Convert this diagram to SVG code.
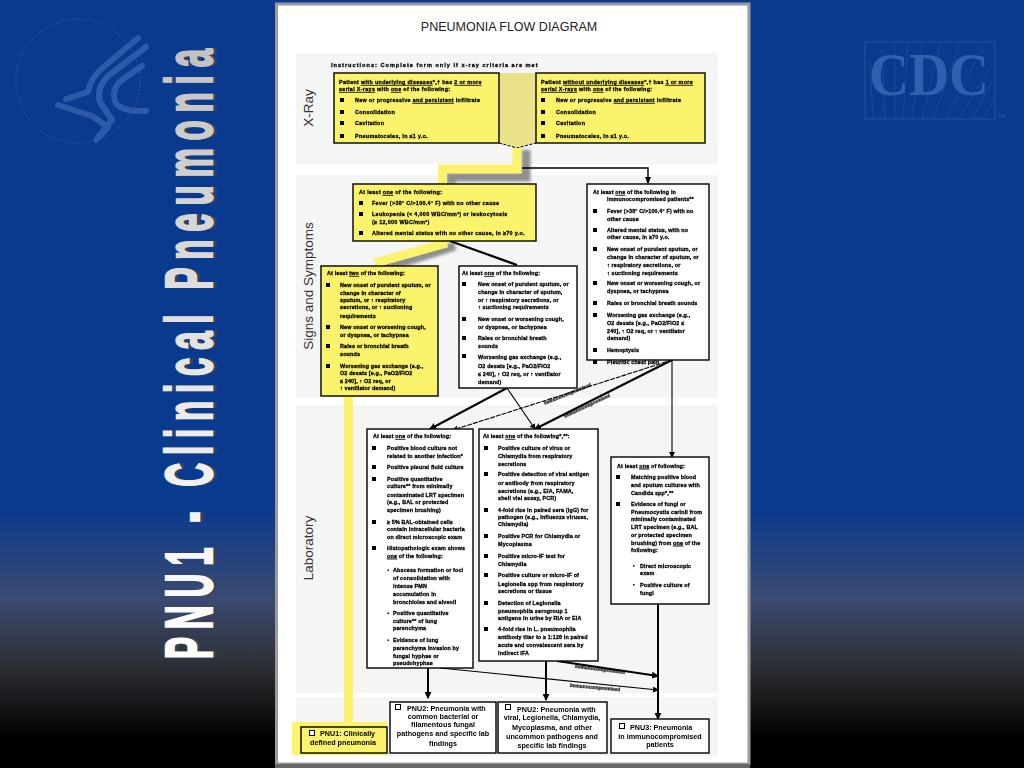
<svg xmlns="http://www.w3.org/2000/svg" width="1024" height="768" viewBox="0 0 1024 768">
<style>
text{font-family:"Liberation Sans",Arial,sans-serif}
.t{font-size:5.4px;font-weight:700;fill:#000;stroke:#000;stroke-width:.28;filter:url(#soft);letter-spacing:.15px}
#xray-left .t,#xray-right .t,#signs-general .t{letter-spacing:.32px}
.h{font-size:5.6px;letter-spacing:1px}
.u{text-decoration:underline}
.m{font-size:7.2px;font-weight:700;fill:#000;text-anchor:middle;filter:url(#soft)}
.ml{text-anchor:start}
.s{font-size:13.5px;fill:#333;text-anchor:middle}
.l{font-size:4.8px;font-weight:700;fill:#000;stroke:#000;stroke-width:.2;filter:url(#soft)}
.y{fill:#fbf36c;stroke:#000;stroke-width:1.4}
.w{fill:#fff;stroke:#000;stroke-width:1.4}
.b{fill:#000;stroke:none}
.ck{fill:#fff;stroke:#000;stroke-width:1}
.band{fill:#f5f5f5}
.c{fill:none;stroke:#000}
.thin{stroke-width:1.1;marker-end:url(#a)}
.thick{stroke-width:2;marker-end:url(#a2)}
.logo{fill:none;stroke:#2c5aa8}
.hl{fill:none;stroke:#fbf36c;stroke-width:9}
.sh{fill:none;stroke:#8f8f8f;stroke-width:9;filter:url(#blur)}
</style>
<defs>
<linearGradient id="bg" x1="0" y1="0" x2="0" y2="768" gradientUnits="userSpaceOnUse">
<stop offset="0" stop-color="#093a8e"/><stop offset=".66" stop-color="#093a8e"/><stop offset=".78" stop-color="#3a4a70"/><stop offset=".86" stop-color="#2e3138"/><stop offset=".93" stop-color="#111"/><stop offset=".96" stop-color="#000"/><stop offset="1" stop-color="#000"/>
</linearGradient>
<linearGradient id="tg" x1="0" y1="0" x2="1220" y2="0" gradientUnits="userSpaceOnUse">
<stop offset="0" stop-color="#fff"/><stop offset=".45" stop-color="#e8e8e8"/><stop offset="1" stop-color="#c2c2c2"/>
</linearGradient>
<filter id="blur" x="-30%" y="-30%" width="160%" height="160%"><feGaussianBlur stdDeviation="1.6"/></filter>
<filter id="soft" x="-5%" y="-30%" width="110%" height="160%"><feGaussianBlur stdDeviation=".22"/></filter>
<marker id="a" markerWidth="6" markerHeight="6" refX="5" refY="3" orient="auto" markerUnits="userSpaceOnUse"><path d="M0 0L6 3L0 6z" fill="#000"/></marker>
<marker id="a2" markerWidth="7" markerHeight="7" refX="6" refY="3.5" orient="auto" markerUnits="userSpaceOnUse"><path d="M0 0L7 3.5L0 7z" fill="#000"/></marker>
</defs>

<rect width="1024" height="768" fill="url(#bg)"/>

<g id="hhs-logo">
<circle class="logo" cx="78" cy="81" r="62" stroke-width="2" stroke-dasharray="2 2" opacity=".5"/>
<path class="logo" stroke-width="6" stroke-linecap="round" stroke-linejoin="round" d="M138 38L100 70Q90 80 88 92L66 99"/>
<path class="logo" stroke-width="6" stroke-linecap="round" stroke-linejoin="round" d="M146 47L108 76Q96 88 100 102L112 120L96 140"/>
<path class="logo" stroke-width="6" stroke-linecap="round" stroke-linejoin="round" d="M142 66L122 80Q110 90 116 104Q125 112 146 111"/>
<path class="logo" stroke-width="6" stroke-linecap="round" stroke-linejoin="round" d="M58 105L92 116L108 127L100 136"/>
</g>
<g id="cdc-logo">
<rect class="logo" x="865" y="42" width="130" height="77" stroke-width="1.2" opacity=".7"/>
<path class="logo" stroke-width="1" opacity=".5" d="M870 60L873 119M882 50L885 119M895 44L895 119M908 44L903 119M922 44L912 119M940 44L922 119M960 44L933 119M985 44L945 119M994 62L958 119M994 78L972 119M994 100L982 119"/>
<text x="869" y="95" font-size="62" font-weight="700" fill="#2f5fad" textLength="120" lengthAdjust="spacingAndGlyphs" style="font-family:'Liberation Serif',serif">CDC</text>
<text x="998" y="118" font-size="5" fill="#2f5fad">TM</text>
</g>

<g id="side-title">
<text transform="translate(214.500,659) rotate(-90) scale(.5,1)" font-size="66" font-weight="700" fill="#3a4252" stroke="#3a4252" stroke-width="2.400" letter-spacing="15.700">PNU1 - Clinical Pneumonia</text>
<text transform="translate(211.500,659) rotate(-90) scale(.5,1)" font-size="66" font-weight="700" fill="url(#tg)" stroke="url(#tg)" stroke-width="2.400" letter-spacing="15.700">PNU1 - Clinical Pneumonia</text>
</g>

<rect id="page" x="276.500" y="4" width="472.500" height="760" fill="#fff" stroke="#9a9a9f" stroke-width="3"/>
<rect x="275" y="764" width="475" height="4" fill="#666"/>

<text x="509" y="31" text-anchor="middle" font-size="12.500" fill="#222">PNEUMONIA FLOW DIAGRAM</text>

<g id="bands">
<rect class="band" x="296" y="53" width="422" height="111"/>
<rect class="band" x="296" y="175" width="422" height="223"/>
<rect class="band" x="296" y="405" width="422" height="288"/>
<rect class="band" x="296" y="697" width="422" height="59"/>
<text class="s" transform="translate(313,108) rotate(-90)">X-Ray</text>
<text class="s" transform="translate(313,286) rotate(-90)">Signs and Symptoms</text>
<text class="s" transform="translate(313,548) rotate(-90)">Laboratory</text>
</g>

<text class="t h" x="331" y="66.500">Instructions: Complete form only if x-ray criteria are met</text>

<g id="highlight-shadows">
<path class="sh" d="M526 150V177H451V184"/>
<path class="sh" d="M455 246L385 268"/>
<path class="sh" d="M357 398V726"/>
</g>

<g id="connectors">
<path d="M499 73H536V143L517 148L499 143z" fill="#e9e288"/>
<path class="c" stroke-width="1" stroke-dasharray="3 1.500" d="M499 143L517 148L536 143"/>
<path class="hl" d="M517 148V169H442.500V185"/>
<path class="c" stroke-width="1.400" d="M522 168H648V183"/>
<path d="M645 177L651 177L648 184z" fill="#000"/>
<path class="hl" d="M447 243L375 263"/>
<path class="hl" d="M348.500 396V725"/>
<rect x="292" y="722" width="95" height="33" fill="#fbf36c"/>
<path class="c" stroke-width="2.200" d="M450 241L517 265"/>
<path class="c thick" d="M507 388L430 429"/>
<path class="c thin" d="M507 388L535 429"/>
<path class="c thin" stroke-dasharray="5 1" d="M672 360L453 430"/>
<path class="c thick" d="M672 360L535 429"/>
<path class="c thin" d="M672 360V457"/>
<path class="c thick" d="M428 668V698"/>
<path class="c thick" d="M546 661V700"/>
<path class="c thick" d="M658 604V719"/>
<path class="c thick" d="M557 661L658 676"/>
<path class="c thin" d="M440 668L658 690"/>
<text class="l" transform="translate(545,405) rotate(-22)">Immunocompromised</text>
<text class="l" transform="translate(565,418) rotate(-25)">Immunocompromised</text>
<text class="l" transform="translate(575,668) rotate(7)">Immunocompromised</text>
<text class="l" transform="translate(570,687) rotate(5)">Immunocompromised</text>
</g>

<g id="xray-left">
<rect class="y" x="334" y="73" width="165" height="70"/>
<text class="t" x="339" y="84"><tspan>Patient </tspan><tspan class="u">with underlying diseases</tspan><tspan>*,† has </tspan><tspan class="u">2 or more</tspan></text>
<text class="t" x="339" y="91"><tspan class="u">serial X-rays</tspan><tspan> with </tspan><tspan class="u">one</tspan><tspan> of the following:</tspan></text>
<path class="b" d="M340 98h4v4h-4zM340 110h4v4h-4zM340 121h4v4h-4zM340 134h4v4h-4z"/>
<text class="t" x="355" y="102"><tspan>New or progressive </tspan><tspan class="u">and persistent</tspan><tspan> infiltrate</tspan></text>
<text class="t" x="355" y="114">Consolidation</text>
<text class="t" x="355" y="125">Cavitation</text>
<text class="t" x="355" y="138">Pneumatoceles, in ≤1 y.o.</text>
</g>

<g id="xray-right">
<rect class="y" x="536" y="73" width="169" height="70"/>
<text class="t" x="541" y="84"><tspan>Patient </tspan><tspan class="u">without underlying diseases</tspan><tspan>*,† has </tspan><tspan class="u">1 or more</tspan></text>
<text class="t" x="541" y="91"><tspan class="u">serial X-rays</tspan><tspan> with </tspan><tspan class="u">one</tspan><tspan> of the following:</tspan></text>
<path class="b" d="M541 98h4v4h-4zM541 110h4v4h-4zM541 121h4v4h-4zM541 134h4v4h-4z"/>
<text class="t" x="556" y="102"><tspan>New or progressive </tspan><tspan class="u">and persistent</tspan><tspan> infiltrate</tspan></text>
<text class="t" x="556" y="114">Consolidation</text>
<text class="t" x="556" y="125">Cavitation</text>
<text class="t" x="556" y="138">Pneumatoceles, in ≤1 y.o.</text>
</g>

<g id="signs-general">
<rect class="y" x="353" y="184" width="183" height="57"/>
<text class="t" x="359" y="194">At least <tspan class="u">one</tspan> of the following:</text>
<path class="b" d="M359 201h4v4h-4zM359 212h4v4h-4zM359 231h4v4h-4z"/>
<text class="t" x="372" y="205">Fever (&gt;38° C/&gt;100.4° F) with no other cause</text>
<text class="t" x="372" y="216">Leukopenia (&lt; 4,000 WBC/mm³) or leukocytosis</text>
<text class="t" x="372" y="224">(≥ 12,000 WBC/mm³)</text>
<text class="t" x="372" y="235">Altered mental status with no other cause, in ≥70 y.o.</text>
</g>

<g id="signs-immunocompromised">
<rect class="w" x="587" y="184" width="122" height="176"/>
<text class="t" x="593" y="194">At least <tspan class="u">one</tspan> of the following in</text>
<text class="t" x="607" y="201">immunocompromised patients**</text>
<path class="b" d="M593 209h4v4h-4zM593 228h4v4h-4zM593 247h4v4h-4zM593 281h4v4h-4zM593 301h4v4h-4zM593 313h4v4h-4zM593 348h4v4h-4zM593 360h4v4h-4z"/>
<text class="t" x="607" y="213">Fever (&gt;38° C/&gt;100.4° F) with no</text>
<text class="t" x="607" y="221">other cause</text>
<text class="t" x="607" y="232">Altered mental status, with no</text>
<text class="t" x="607" y="239.300">other cause, in ≥70 y.o.</text>
<text class="t" x="607" y="251.300">New onset of purulent sputum, or</text>
<text class="t" x="607" y="259.300">change in character of sputum, or</text>
<text class="t" x="607" y="267.300">↑ respiratory secretions, or</text>
<text class="t" x="607" y="275.300">↑ suctioning requirements</text>
<text class="t" x="607" y="285.300">New onset or worsening cough, or</text>
<text class="t" x="607" y="293">dyspnea, or tachypnea</text>
<text class="t" x="607" y="304.700">Rales or bronchial breath sounds</text>
<text class="t" x="607" y="317">Worsening gas exchange (e.g.,</text>
<text class="t" x="607" y="325.300">O2 desats [e.g., PaO2/FiO2 ≤</text>
<text class="t" x="607" y="332.700">240], ↑ O2 req, or ↑ ventilator</text>
<text class="t" x="607" y="340.300">demand)</text>
<text class="t" x="607" y="352">Hemoptysis</text>
<text class="t" x="607" y="363.700">Pleuritic chest pain</text>
</g>

<g id="signs-two">
<rect class="y" x="321" y="266" width="117" height="130"/>
<text class="t" x="327" y="275">At least <tspan class="u">two</tspan> of the following:</text>
<path class="b" d="M326 283h4v4h-4zM326 325h4v4h-4zM326 344h4v4h-4zM326 364h4v4h-4z"/>
<text class="t" x="340" y="287">New onset of purulent sputum, or</text>
<text class="t" x="340" y="294.700">change in character of</text>
<text class="t" x="340" y="302">sputum, or ↑ respiratory</text>
<text class="t" x="340" y="309.300">secretions, or ↑ suctioning</text>
<text class="t" x="340" y="318">requirements</text>
<text class="t" x="340" y="328.700">New onset or worsening cough,</text>
<text class="t" x="340" y="337">or dyspnea, or tachypnea</text>
<text class="t" x="340" y="347.700">Rales or bronchial breath</text>
<text class="t" x="340" y="356">sounds</text>
<text class="t" x="340" y="368">Worsening gas exchange (e.g.,</text>
<text class="t" x="340" y="375.300">O2 desats [e.g., PaO2/FiO2</text>
<text class="t" x="340" y="383">≤ 240], ↑ O2 req, or</text>
<text class="t" x="340" y="390.300">↑ ventilator demand)</text>
</g>

<g id="signs-one">
<rect class="w" x="459" y="266" width="118" height="122"/>
<text class="t" x="462" y="275">At least <tspan class="u">one</tspan> of the following:</text>
<path class="b" d="M462 282h4v4h-4zM462 317h4v4h-4zM462 336h4v4h-4zM462 354h4v4h-4z"/>
<text class="t" x="478" y="286">New onset of purulent sputum, or</text>
<text class="t" x="478" y="293.700">change in character of sputum,</text>
<text class="t" x="478" y="302">or ↑ respiratory secretions, or</text>
<text class="t" x="478" y="309.300">↑ suctioning requirements</text>
<text class="t" x="478" y="321.300">New onset or worsening cough,</text>
<text class="t" x="478" y="328.700">or dyspnea, or tachypnea</text>
<text class="t" x="478" y="340.300">Rales or bronchial breath</text>
<text class="t" x="478" y="347.700">sounds</text>
<text class="t" x="478" y="358.700">Worsening gas exchange (e.g.,</text>
<text class="t" x="478" y="368">O2 desats [e.g., PaO2/FiO2</text>
<text class="t" x="478" y="376.300">≤ 240], ↑ O2 req, or ↑ ventilator</text>
<text class="t" x="478" y="383.700">demand)</text>
</g>

<g id="lab-bacterial">
<rect class="w" x="367" y="429" width="106" height="239"/>
<text class="t" x="373" y="438">At least <tspan class="u">one</tspan> of the following:</text>
<path class="b" d="M372 446h4v4h-4zM372 465h4v4h-4zM372 477h4v4h-4zM372 520h4v4h-4zM372 546h4v4h-4z"/>
<path class="b" d="M387.500 569.500h1.500v1.500h-1.500zM387.500 612.500h1.500v1.500h-1.500zM387.500 639.500h1.500v1.500h-1.500z"/>
<text class="t" x="387" y="449.700">Positive blood culture not</text>
<text class="t" x="387" y="457.700">related to another infection*</text>
<text class="t" x="387" y="468.700">Positive pleural fluid culture</text>
<text class="t" x="387" y="480.700">Positive quantitative</text>
<text class="t" x="387" y="488">culture** from minimally</text>
<text class="t" x="387" y="497">contaminated LRT specimen</text>
<text class="t" x="387" y="504.300">(e.g., BAL or protected</text>
<text class="t" x="387" y="512">specimen brushing)</text>
<text class="t" x="387" y="523.700">≥ 5% BAL-obtained cells</text>
<text class="t" x="387" y="531.300">contain intracellular bacteria</text>
<text class="t" x="387" y="538.700">on direct microscopic exam</text>
<text class="t" x="387" y="550.300">Histopathologic exam shows</text>
<text class="t" x="387" y="557.700"><tspan class="u">one</tspan> of the following:</text>
<text class="t" x="393" y="572">Abscess formation or foci</text>
<text class="t" x="393" y="579.700">of consolidation with</text>
<text class="t" x="393" y="587.700">intense PMN</text>
<text class="t" x="393" y="596">accumulation in</text>
<text class="t" x="393" y="604">bronchioles and alveoli</text>
<text class="t" x="393" y="615">Positive quantitative</text>
<text class="t" x="393" y="623">culture** of lung</text>
<text class="t" x="393" y="630">parenchyma</text>
<text class="t" x="393" y="642">Evidence of lung</text>
<text class="t" x="393" y="650">parenchyma invasion by</text>
<text class="t" x="393" y="658">fungal hyphae or</text>
<text class="t" x="393" y="665">pseudohyphae</text>
</g>

<g id="lab-viral">
<rect class="w" x="479" y="429" width="119" height="232"/>
<text class="t" x="483" y="438">At least <tspan class="u">one</tspan> of the following*,**:</text>
<path class="b" d="M484 446h4v4h-4zM484 472h4v4h-4zM484 508h4v4h-4zM484 534h4v4h-4zM484 554h4v4h-4zM484 573h4v4h-4zM484 601h4v4h-4zM484 627h4v4h-4z"/>
<text class="t" x="498" y="449.700">Positive culture of virus or</text>
<text class="t" x="498" y="457.700">Chlamydia from respiratory</text>
<text class="t" x="498" y="466">secretions</text>
<text class="t" x="498" y="476.300">Positive detection of viral antigen</text>
<text class="t" x="498" y="485.300">or antibody from respiratory</text>
<text class="t" x="498" y="493">secretions (e.g., EIA, FAMA,</text>
<text class="t" x="498" y="500.300">shell vial assay, PCR)</text>
<text class="t" x="498" y="512">4-fold rise in paired sera (IgG) for</text>
<text class="t" x="498" y="519.300">pathogen (e.g., Influenza viruses,</text>
<text class="t" x="498" y="526.300">Chlamydia)</text>
<text class="t" x="498" y="538">Positive PCR for Chlamydia or</text>
<text class="t" x="498" y="546">Mycoplasma</text>
<text class="t" x="498" y="557.700">Positive micro-IF test for</text>
<text class="t" x="498" y="566">Chlamydia</text>
<text class="t" x="498" y="577">Positive culture or micro-IF of</text>
<text class="t" x="498" y="586">Legionella spp from respiratory</text>
<text class="t" x="498" y="593">secretions or tissue</text>
<text class="t" x="498" y="605">Detection of Legionella</text>
<text class="t" x="498" y="613">pneumophila serogroup 1</text>
<text class="t" x="498" y="620">antigens in urine by RIA or EIA</text>
<text class="t" x="498" y="631">4-fold rise in L. pneumophila</text>
<text class="t" x="498" y="639">antibody titer to ≥ 1:128 in paired</text>
<text class="t" x="498" y="647">acute and convalescent sera by</text>
<text class="t" x="498" y="655">indirect IFA</text>
</g>

<g id="lab-immunocompromised">
<rect class="w" x="611" y="457" width="98" height="147"/>
<text class="t" x="617" y="467.700">At least <tspan class="u">one</tspan> of following:</text>
<path class="b" d="M616 475h4v4h-4zM616 502h4v4h-4z"/>
<path class="b" d="M633 565h1.500v1.500h-1.500zM633 584h1.500v1.500h-1.500z"/>
<text class="t" x="631" y="479.300">Matching positive blood</text>
<text class="t" x="631" y="487">and sputum cultures with</text>
<text class="t" x="631" y="495.300">Candida spp*,**</text>
<text class="t" x="631" y="506">Evidence of fungi or</text>
<text class="t" x="631" y="513.700">Pneumocystis carinii from</text>
<text class="t" x="631" y="521">minimally contaminated</text>
<text class="t" x="631" y="529.300">LRT specimen (e.g., BAL</text>
<text class="t" x="631" y="537">or protected specimen</text>
<text class="t" x="631" y="544.700">brushing) from <tspan class="u">one</tspan> of the</text>
<text class="t" x="631" y="552">following:</text>
<text class="t" x="640" y="568">Direct microscopic</text>
<text class="t" x="640" y="575.300">exam</text>
<text class="t" x="640" y="587">Positive culture of</text>
<text class="t" x="640" y="595">fungi</text>
</g>

<g id="pnu1">
<rect class="y" x="301" y="727" width="86" height="26"/>
<rect class="ck" x="309.500" y="730.500" width="5" height="5"/>
<text class="m ml" x="320" y="735.500">PNU1: Clinically</text>
<text class="m" x="343" y="745">defined pneumonia</text>
</g>
<g id="pnu2-bacterial">
<rect class="w" x="390" y="702" width="106" height="51"/>
<rect class="ck" x="395.500" y="704.500" width="5" height="5"/>
<text class="m ml" x="407" y="710.500">PNU2: Pneumonia with</text>
<text class="m" x="443" y="718.500">common bacterial or</text>
<text class="m" x="443" y="727">filamentous fungal</text>
<text class="m" x="443" y="736">pathogens and specific lab</text>
<text class="m" x="443" y="745.500">findings</text>
</g>
<g id="pnu2-viral">
<rect class="w" x="498" y="702" width="109" height="51"/>
<rect class="ck" x="505.500" y="704.500" width="5" height="5"/>
<text class="m ml" x="517" y="711.500">PNU2: Pneumonia with</text>
<text class="m" x="552" y="720">viral, Legionella, Chlamydia,</text>
<text class="m" x="552" y="729.500">Mycoplasma, and other</text>
<text class="m" x="552" y="738.500">uncommon pathogens and</text>
<text class="m" x="552" y="747.500">specific lab findings</text>
</g>
<g id="pnu3">
<rect class="w" x="611" y="719" width="98" height="34"/>
<rect class="ck" x="619.500" y="723.500" width="5" height="5"/>
<text class="m ml" x="630" y="729.500">PNU3: Pneumonia</text>
<text class="m" x="660" y="738.500">in immunocompromised</text>
<text class="m" x="660" y="746.500">patients</text>
</g>
</svg>
